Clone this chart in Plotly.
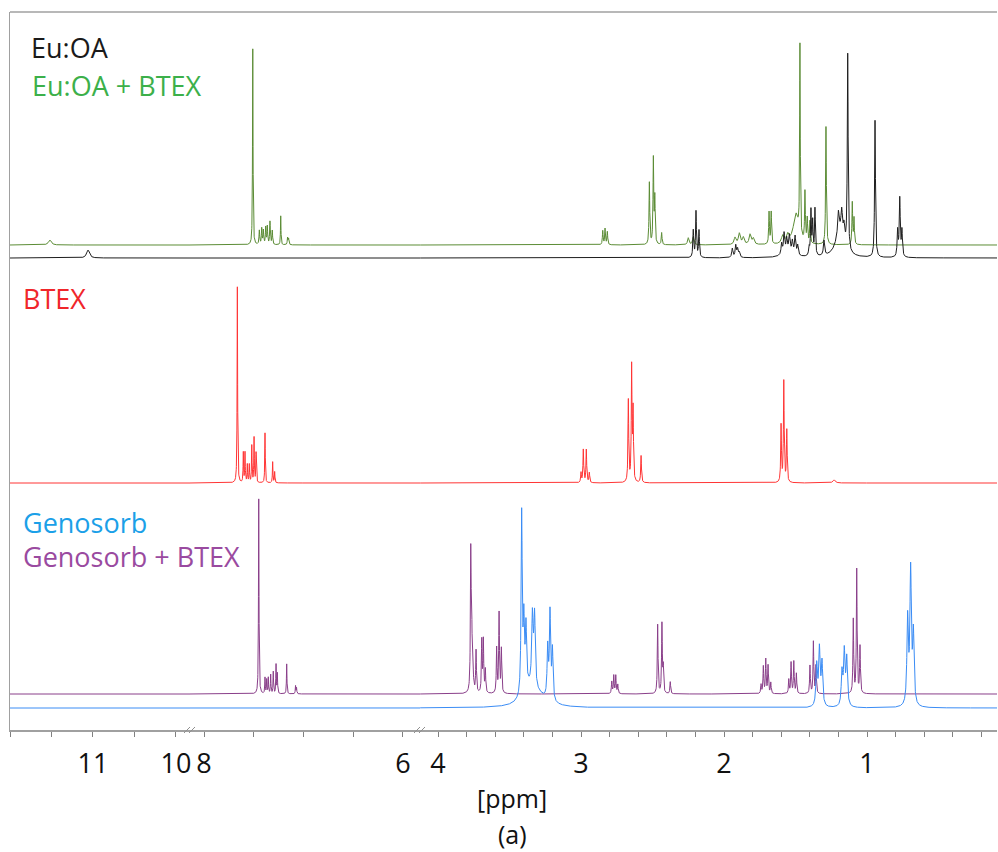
import numpy as np
import plotly.graph_objects as go

# ---------------- data (peak lists) ----------------
# chemical shift [ppm], intensity [a.u.], half width [ppm]
euoa_ppm = [11.06, 2.215, 2.196, 2.175, 1.942, 1.918, 1.905, 1.893,
            1.597, 1.580, 1.562, 1.543, 1.522, 1.503, 1.485, 1.55,
            1.405, 1.392, 1.380, 1.364, 1.301, 1.200, 1.177, 1.161, 1.19,
            1.135, 0.944, 0.786, 0.771, 0.756]
euoa_int = [8, 27, 46, 27, 9, 12, 8, 5,
            11, 20, 13, 16, 12, 18, 10, 6,
            8, 45, 33, 47, 15, 22, 24, 16, 25,
            196, 137, 26, 58, 26]
euoa_wid = [0.02, 0.0035, 0.0035, 0.0035, 0.005, 0.005, 0.005, 0.005,
            0.005, 0.005, 0.005, 0.005, 0.005, 0.005, 0.005, 0.04,
            0.004, 0.0035, 0.0035, 0.0035, 0.005, 0.006, 0.006, 0.006, 0.035,
            0.0035, 0.0035, 0.004, 0.004, 0.004]

euoabtex_ppm = [11.52, 7.510, 7.444, 7.420, 7.404, 7.380, 7.364, 7.337, 7.314,
                7.229, 7.160, 7.150, 2.848, 2.832, 2.816, 2.522, 2.494, 2.484,
                2.436, 2.250, 2.215, 1.923, 1.893, 1.865, 1.818, 1.795,
                1.590, 1.555, 1.685, 1.670, 1.497, 1.469, 1.434, 1.418, 1.399,
                1.287, 1.103, 1.091]
euoabtex_int = [5, 196, 14, 16, 14, 17, 18, 23, 14,
                29, 7, 6, 14, 16, 13, 62, 85, 45,
                12, 7, 8, 7, 11, 7, 10, 6,
                8, 8, 32, 32, 30, 190, 50, 24, 22,
                118, 42, 26]
euoabtex_wid = [0.02, 0.003, 0.004, 0.004, 0.004, 0.004, 0.004, 0.004, 0.004,
                0.003, 0.004, 0.004, 0.003, 0.003, 0.003, 0.003, 0.003, 0.003,
                0.003, 0.006, 0.006, 0.008, 0.008, 0.008, 0.008, 0.008,
                0.01, 0.01, 0.003, 0.003, 0.022, 0.0025, 0.003, 0.003, 0.003,
                0.003, 0.003, 0.003]

btex_ppm = [7.665, 7.605, 7.588, 7.565, 7.545, 7.520, 7.497, 7.477, 7.387,
            7.310, 7.290, 3.000, 2.984, 2.963, 2.942, 2.669, 2.646, 2.636,
            2.580, 1.601, 1.582, 1.561, 1.230]
btex_int = [196, 30, 30, 18, 18, 37, 45, 30, 50,
            21, 11, 10, 33, 33, 10, 82, 114, 70,
            27, 57, 101, 52, 3]
btex_wid = [0.003] * 22 + [0.01]

genobtex_ppm = [7.450, 7.387, 7.370, 7.354, 7.330, 7.304, 7.276, 7.263, 7.169,
                7.080, 7.070, 3.771, 3.765, 3.757, 3.734, 3.694, 3.683, 3.669,
                3.590, 3.573, 3.557, 2.785, 2.771, 2.757, 2.743, 2.464, 2.434,
                2.425, 2.376, 1.741, 1.725, 1.708, 1.692, 1.673, 1.547, 1.531,
                1.512, 1.494, 1.399, 1.375, 1.357, 1.096, 1.072, 1.049]
genobtex_int = [195, 16, 14, 16, 19, 22, 29, 20, 30,
                8, 6, 134, 70, 44, 42, 52, 52, 23,
                45, 80, 44, 12, 18, 18, 9, 69, 69,
                25, 12, 9, 27, 34, 28, 11, 14, 31,
                32, 20, 28, 52, 28, 74, 124, 47]
genobtex_wid = [0.003] * 44

geno_ppm = [3.415, 3.400, 3.385, 3.370, 3.340, 3.325, 3.233, 3.217, 3.200,
            3.300, 1.352, 1.333, 1.315, 1.175, 1.159, 1.142, 0.716, 0.695, 0.676]
geno_int = [180, 68, 60, 14, 70, 72, 50, 86, 50,
            10, 41, 56, 43, 33, 53, 47, 86, 133, 70]
geno_wid = [0.0045, 0.005, 0.005, 0.05, 0.006, 0.006, 0.005, 0.005, 0.005,
            0.08, 0.006, 0.006, 0.006, 0.006, 0.006, 0.006, 0.006, 0.006, 0.006]

labels_top = ["Eu:OA", "Eu:OA + BTEX"]
labels_mid = ["BTEX"]
labels_bot = ["Genosorb", "Genosorb + BTEX"]

# axis segments (broken ppm axis): ranges and ticks
seg_ranges = [[12.0, 9.831], [8.141, 5.829], [4.126, 0.091]]
seg_tickvals = [[12, 11.5, 11, 10.5, 10],
                [8, 7.5, 7, 6.5, 6],
                [4, 3.8, 3.6, 3.4, 3.2, 3, 2.8, 2.6, 2.4, 2.2, 2, 1.8, 1.6,
                 1.4, 1.2, 1, 0.8, 0.6, 0.4, 0.2]]
seg_ticktext = [["", "", "11", "", "10"],
                ["8", "", "", "", "6"],
                ["4", "", "", "", "", "3", "", "", "", "", "2", "", "", "", "",
                 "1", "", "", "", ""]]

# ---------------- layout geometry (pixels) ----------------
W, H = 998, 852
L, R, T, B = 10, 1, 12, 122
PW, PH = W - L - R, H - T - B
seg_px = [(10, 190), (190, 420), (420, 997)]
seg_dom = [[(a - L) / PW, (b - L) / PW] for a, b in seg_px]
axis_px = H - B  # 730

FONT = "Open Sans"
LABEL_SIZE = 27
TICK_SIZE = 27

spectra = [
    # name, ppm, int, wid, color, baseline pixel
    ("Eu:OA + BTEX", euoabtex_ppm, euoabtex_int, euoabtex_wid, "#5b8c35", 245),
    ("Eu:OA", euoa_ppm, euoa_int, euoa_wid, "#1e1e1e", 258),
    ("BTEX", btex_ppm, btex_int, btex_wid, "#ff3535", 483),
    ("Genosorb + BTEX", genobtex_ppm, genobtex_int, genobtex_wid, "#8a3f8a", 694),
    ("Genosorb", geno_ppm, geno_int, geno_wid, "#3a8cf5", 708),
]


def lineshape(x, c, h, w):
    y = np.zeros_like(x)
    for ci, hi, wi in zip(c, h, w):
        y += hi * wi ** 2 / ((x - ci) ** 2 + wi ** 2)
    return y


fig = go.Figure()
yaxes = {}
for k, (name, c, h, w, col, base) in enumerate(spectra):
    yname = "y" if k == 0 else f"y{k + 1}"
    lname = "yaxis" if k == 0 else f"yaxis{k + 1}"
    yaxes[lname] = dict(
        domain=[0, 1], anchor="x",
        range=[-(axis_px - base), base - T],
        showgrid=False, zeroline=False, showticklabels=False, ticks="",
        visible=(k == 0), showline=(k == 0), linecolor="#a0a0a0", linewidth=1.5,
        fixedrange=True,
    )
    ca = np.array(c, float)
    wa = np.array(w, float)
    for j, (hi_, lo_) in enumerate(seg_ranges):
        xs = np.arange(lo_, hi_, 0.001)
        extra = (ca[:, None] + wa[:, None] * np.array([-3, -2, -1, -0.5, 0, 0.5, 1, 2, 3])[None, :]).ravel()
        extra = extra[(extra > lo_) & (extra < hi_)]
        xs = np.union1d(xs, extra)[::-1]
        ys = lineshape(xs, c, h, w)
        fig.add_trace(go.Scatter(
            x=xs, y=ys, mode="lines",
            line=dict(color=col, width=1),
            xaxis="x" if j == 0 else f"x{j + 1}", yaxis=yname,
            hoverinfo="skip", showlegend=False,
        ))

xaxes = {}
for j in range(3):
    lname = "xaxis" if j == 0 else f"xaxis{j + 1}"
    xaxes[lname] = dict(
        domain=seg_dom[j], range=seg_ranges[j], anchor="y",
        tickmode="array", tickvals=seg_tickvals[j], ticktext=seg_ticktext[j],
        ticks="outside", ticklen=5, tickwidth=1, tickcolor="#808080",
        showline=True, linecolor="#a0a0a0", linewidth=1.5,
        showgrid=False, zeroline=False,
        tickfont=dict(family=FONT, size=TICK_SIZE, color="#111111"),
        ticklabelstandoff=4, fixedrange=True,
    )


def px(xp):
    return (xp - L) / PW


def py(yp):
    return (axis_px - yp) / PH


annotations = []
text_items = [
    (labels_top[0], 29, 47, "#1a1a1a"),
    (labels_top[1], 30, 85, "#3cb04a"),
    (labels_mid[0], 21, 298, "#f0262a"),
    (labels_bot[0], 21, 522, "#1ba0e8"),
    (labels_bot[1], 21, 556, "#9a4aa0"),
]
for txt, xp, yp, col in text_items:
    annotations.append(dict(text=txt, x=px(xp), y=py(yp), xref="paper", yref="paper",
                            xanchor="left", yanchor="middle", showarrow=False,
                            font=dict(family=FONT, size=LABEL_SIZE, color=col)))
annotations.append(dict(text="[ppm]", x=px(512), y=py(798), xref="paper", yref="paper",
                        xanchor="center", yanchor="middle", showarrow=False, borderpad=0,
                        font=dict(family=FONT, size=25, color="#111111")))
annotations.append(dict(text="(a)", x=px(512), y=py(834), xref="paper", yref="paper",
                        xanchor="center", yanchor="middle", showarrow=False, borderpad=0,
                        font=dict(family=FONT, size=25, color="#111111")))

shapes = [dict(type="line", xref="paper", yref="paper", x0=0, x1=1, y0=1, y1=1,
               line=dict(color="#a0a0a0", width=1.5))]
for bx in (190, 420):
    for off in (-3, 2):
        shapes.append(dict(type="line", xref="paper", yref="paper",
                           x0=px(bx + off - 3), x1=px(bx + off + 3),
                           y0=py(733), y1=py(727),
                           line=dict(color="#909090", width=1)))

fig.update_layout(
    width=W, height=H,
    margin=dict(l=L, r=R, t=T, b=B, pad=0),
    paper_bgcolor="white", plot_bgcolor="rgba(0,0,0,0)",
    annotations=annotations, shapes=shapes,
    showlegend=False,
    **xaxes, **yaxes,
)

fig.write_html(
    "out.html",
    config={"displayModeBar": False, "staticPlot": True},
    post_script="document.body.style.margin='0';document.body.style.overflow='hidden';",
)
